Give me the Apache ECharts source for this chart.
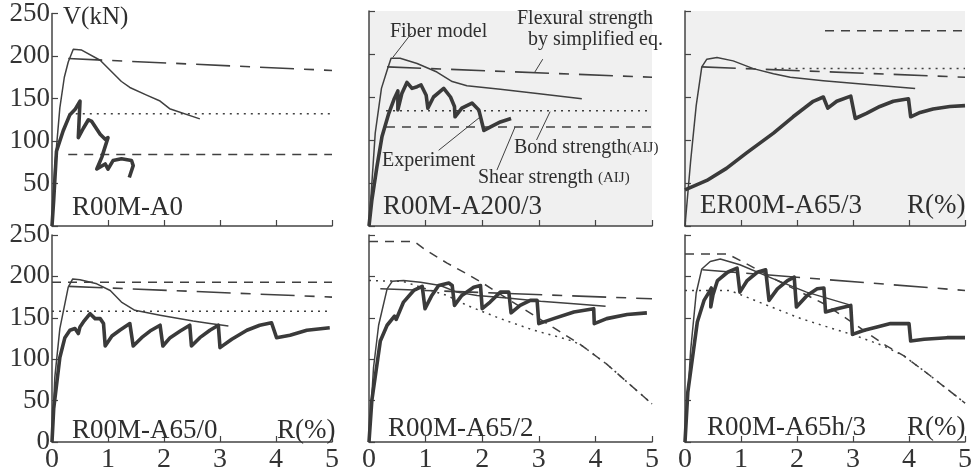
<!DOCTYPE html>
<html><head><meta charset="utf-8">
<script src="https://cdn.jsdelivr.net/npm/echarts@6/dist/echarts.min.js"></script>
<style>html,body{margin:0;padding:0;background:#fff}#c{width:976px;height:474px}</style>
</head><body><div id="c"></div>
<script>
// ---- axis ticks ----
const xTicks = [0,1,2,3,4,5];
const yTicks = [0,50,100,150,200,250];
const panelNames = ['R00M-A0','R00M-A200/3','ER00M-A65/3','R00M-A65/0','R00M-A65/2','R00M-A65h/3'];

// ---- Panel 1: R00M-A0 ----
const exp1 = [[0,0],[0.03,30],[0.08,88],[0.2,112],[0.32,131],[0.41,137],[0.5,147],[0.47,104],[0.56,115],[0.65,125],[0.71,123],[0.86,108],[0.95,102],[1.0,104],[0.89,81],[0.8,67],[0.95,73],[1.0,67],[1.09,77],[1.24,79],[1.42,77],[1.45,71],[1.38,57]];
const fib1 = [[0,0],[0.05,70],[0.14,139],[0.22,175],[0.29,193],[0.38,208],[0.53,207],[0.86,195],[1.24,170],[1.39,163],[1.69,154],[1.93,147],[2.1,138],[2.64,126]];
const flex1 = [[0.29,197],[5,183]];
const bond1 = [[0.3,132],[5,132]];
const shear1 = [[0.29,84],[5,84]];

// ---- Panel 2: R00M-A200/3 ----
const exp2 = [[0,0],[0.05,30],[0.14,69],[0.23,104],[0.35,131],[0.44,147],[0.51,157],[0.51,135],[0.58,154],[0.67,167],[0.76,160],[0.85,162],[0.92,164],[1.01,152],[1.04,137],[1.14,150],[1.32,160],[1.44,150],[1.51,139],[1.52,127],[1.64,137],[1.82,143],[1.94,135],[2.03,111],[2.14,115],[2.32,121],[2.51,125]];
const fib2 = [[0,0],[0.11,108],[0.22,160],[0.32,181],[0.39,195],[0.55,195],[0.85,189],[1.2,179],[1.47,168],[1.73,163],[2.32,159],[2.97,154],[3.76,148]];
const flex2 = [[0.32,185],[5,173]];
const bond2 = [[0.3,134],[5,134]];
const shear2 = [[0.3,115],[5,115]];
const leadFiber = [[0.42,196],[0.75,224]];
const leadFlex = [[2.93,179],[3.07,194]];
const leadBond = [[3.2,133],[2.96,100]];
const leadShear = [[2.58,115],[2.26,65]];
const leadExp = [[1.95,126],[1.23,88]];

// ---- Panel 3: ER00M-A65/3 ----
const exp3 = [[0,42],[0.39,53],[0.74,67],[1.1,85],[1.58,108],[1.93,127],[2.29,145],[2.47,150],[2.55,137],[2.71,145],[2.96,151],[3.04,125],[3.24,131],[3.48,139],[3.72,145],[3.99,148],[4.03,127],[4.2,132],[4.43,136],[4.73,139],[5,140]];
const fib3 = [[0,0],[0.1,75],[0.2,140],[0.3,185],[0.39,194],[0.57,196],[0.86,192],[1.22,183],[1.58,177],[1.88,173],[2.47,169],[3.36,164],[4.11,160]];
const flex3 = [[0.3,185],[5,173]];
const bond3 = [[1.6,183],[5,183]];
const shear3 = [[2.5,227],[5,227]];

// ---- Panel 4: R00M-A65/0 ----
const exp4 = [[0,0],[0.03,40],[0.14,102],[0.23,126],[0.32,135],[0.41,137],[0.47,131],[0.5,139],[0.56,145],[0.68,155],[0.77,149],[0.86,149],[0.92,143],[0.95,116],[1.07,128],[1.21,135],[1.39,143],[1.45,116],[1.6,126],[1.75,134],[1.93,141],[1.98,116],[2.11,126],[2.29,134],[2.46,141],[2.49,116],[2.64,126],[2.82,135],[2.97,141],[3.0,114],[3.21,124],[3.48,135],[3.71,141],[3.92,144],[4.01,126],[4.25,129],[4.55,135],[4.96,138]];
const fib4 = [[0,0],[0.05,78],[0.14,137],[0.29,187],[0.37,197],[0.5,196],[0.8,191],[1.04,183],[1.24,169],[1.48,159],[1.93,153],[2.52,146],[2.82,143],[3.15,140]];
const flex4 = [[0.3,188],[5,175]];
const bond4 = [[0,158],[5,158]];
const shear4 = [[0,193],[5,193]];

// ---- Panel 5: R00M-A65/2 ----
const exp5 = [[0,0],[0.05,50],[0.2,122],[0.32,141],[0.45,152],[0.48,148],[0.61,169],[0.79,183],[0.94,188],[0.99,161],[1.11,177],[1.23,189],[1.41,192],[1.47,189],[1.51,165],[1.64,177],[1.85,187],[1.97,189],[2.0,161],[2.14,169],[2.32,181],[2.47,181],[2.51,156],[2.67,165],[2.85,171],[2.97,171],[3.0,143],[3.26,149],[3.62,157],[3.97,161],[3.98,143],[4.2,149],[4.56,154],[4.91,156]];
const fib5 = [[0,0],[0.08,90],[0.17,141],[0.32,185],[0.41,194],[0.61,195],[0.91,193],[1.26,189],[1.55,181],[1.91,177],[2.44,174],[3.03,170],[3.62,167],[4.18,164]];
const flex5 = [[0.2,185],[5,173]];
const shear5 = [[0,242],[0.8,242],[1.0,232],[1.38,216],[1.73,203],[2.03,191],[3.26,138],[3.73,118],[4.2,94],[5,46]];
const bond5 = [[0,195],[0.6,194],[1.0,185],[1.38,177],[1.73,165],[2.32,149],[2.91,135],[3.5,124],[3.73,118],[4.2,94],[5,46]];

// ---- Panel 6: R00M-A65h/3 ----
const exp6 = [[0,0],[0.05,60],[0.22,145],[0.34,171],[0.43,181],[0.47,186],[0.46,163],[0.5,178],[0.58,195],[0.76,205],[0.93,210],[0.98,181],[1.11,195],[1.29,205],[1.44,208],[1.5,171],[1.65,185],[1.83,195],[1.95,199],[1.99,163],[2.18,177],[2.36,185],[2.48,186],[2.51,157],[2.72,161],[2.96,165],[2.99,130],[3.2,135],[3.43,139],[3.67,143],[4.0,143],[4.03,122],[4.27,124],[4.68,126],[5,126]];
const fib6 = [[0,0],[0.1,110],[0.2,180],[0.3,209],[0.45,218],[0.63,221],[0.98,214],[1.58,197],[2.17,181],[2.97,165]];
const flex6 = [[0.31,208],[5,183]];
const shear6 = [[0,227],[0.76,227],[1.08,216],[1.65,195],[2.48,167],[2.93,147],[3.55,118],[3.91,104],[4.38,80],[5,47]];
const bond6 = [[0,183],[0.8,183],[0.99,178],[1.47,165],[2.07,149],[2.54,139],[3.02,129],[3.55,116],[3.91,104],[4.38,80],[5,47]];

// ---- layout ----
const gridBoxes = [
  {left:52, top:11, width:280, height:215},
  {left:369, top:11, width:283, height:215},
  {left:685, top:11, width:280, height:215},
  {left:52, top:235, width:280, height:211},
  {left:369, top:235, width:283, height:211},
  {left:685, top:235, width:280, height:211}
];
const INK = '#3a3a3a';
const SERIF = '"Liberation Serif", "Times New Roman", serif';

const grids = gridBoxes.map((g,i)=>Object.assign({
  show: i===1 || i===2, backgroundColor:'#f0f0f0', borderWidth:0, containLabel:false
}, g));

const xAxes = gridBoxes.map((g,i)=>({
  gridIndex:i, type:'value', min:xTicks[0], max:xTicks[xTicks.length-1], interval:1,
  axisLine:{show:true, onZero:false, lineStyle:{color:'#444', width:1.5}},
  axisTick:{show:true, inside:true, length:6, lineStyle:{color:'#444', width:1.2}},
  splitLine:{show:false},
  axisLabel:{show:i>=3, fontFamily:SERIF, fontSize:28, color:'#333', margin:4}
}));
const yAxes = gridBoxes.map((g,i)=>({
  gridIndex:i, type:'value', min:yTicks[0], max:yTicks[yTicks.length-1], interval:50,
  axisLine:{show:true, onZero:false, lineStyle:{color:'#444', width:1.5}},
  axisTick:{show:true, inside:true, length:6, lineStyle:{color:'#444', width:1.2}},
  splitLine:{show:false},
  axisLabel:{show:i===0||i===3, fontFamily:SERIF, fontSize:27, color:'#333', margin:2,
    formatter:(v)=> (i===0 && v===0) ? '' : String(v)}
}));

const series = [];
function add(gi, data, kind){
  const st = {
    exp:{width:3.6, color:INK, type:'solid'},
    fib:{width:1.5, color:'#404040', type:'solid'},
    flex:{width:1.6, color:'#404040', type:[34,10,10,10]},
    shear:{width:1.5, color:'#404040', type:[9,7]},
    bond:{width:1.5, color:'#404040', type:[2,5]},
    lead:{width:1, color:'#404040', type:'solid'}
  }[kind];
  series.push({type:'line', xAxisIndex:gi, yAxisIndex:gi, data:data, symbol:'none',
    lineStyle:Object.assign({cap:'butt', join:'round'}, st), z: kind==='exp'?5:3, silent:true, animation:false});
}
[[flex1,shear1,bond1,fib1,exp1],[flex2,shear2,bond2,fib2,exp2],[flex3,shear3,bond3,fib3,exp3],
 [flex4,shear4,bond4,fib4,exp4],[flex5,shear5,bond5,fib5,exp5],[flex6,shear6,bond6,fib6,exp6]].forEach((p,gi)=>{
  add(gi,p[0],'flex'); add(gi,p[1],'shear'); add(gi,p[2],'bond'); add(gi,p[3],'fib'); add(gi,p[4],'exp');
});
[leadFiber,leadFlex,leadBond,leadShear,leadExp].forEach(d=>add(1,d,'lead'));

function txt(x, y, text, size){
  return {type:'text', x:x, y:y, z:10, style:{text:text, font:size+'px '+SERIF, fill:'#2e2e2e', verticalAlign:'middle', align:'left'}};
}
const graphic = [
  txt(63, 17, 'V(kN)', 25),
  txt(72, 208, panelNames[0], 27),
  txt(383, 207, panelNames[1], 27),
  txt(700, 206, panelNames[2], 27),
  txt(907, 206, 'R(%)', 27),
  txt(72, 431, panelNames[3], 27),
  txt(277, 431, 'R(%)', 27),
  txt(388, 429, panelNames[4], 27),
  txt(707, 428, panelNames[5], 27),
  txt(907, 428, 'R(%)', 27),
  txt(390, 32, 'Fiber model', 20),
  txt(517, 19, 'Flexural strength', 20),
  txt(528, 40, 'by simplified eq.', 20),
  txt(382, 161, 'Experiment', 20),
  {type:'text', x:514, y:148, z:10, style:{text:'{a|Bond strength}{b|(AIJ)}', verticalAlign:'middle',
     rich:{a:{font:'20px '+SERIF, fill:'#2e2e2e'}, b:{font:'15px '+SERIF, fill:'#2e2e2e'}}}},
  {type:'text', x:478, y:178, z:10, style:{text:'{a|Shear strength }{b|(AIJ)}', verticalAlign:'middle',
     rich:{a:{font:'20px '+SERIF, fill:'#2e2e2e'}, b:{font:'15px '+SERIF, fill:'#2e2e2e'}}}}
];

const chart = echarts.init(document.getElementById('c'), null, {renderer:'canvas'});
chart.setOption({animation:false, backgroundColor:'#ffffff', grid:grids, xAxis:xAxes, yAxis:yAxes, series:series, graphic:graphic});
</script></body></html>
